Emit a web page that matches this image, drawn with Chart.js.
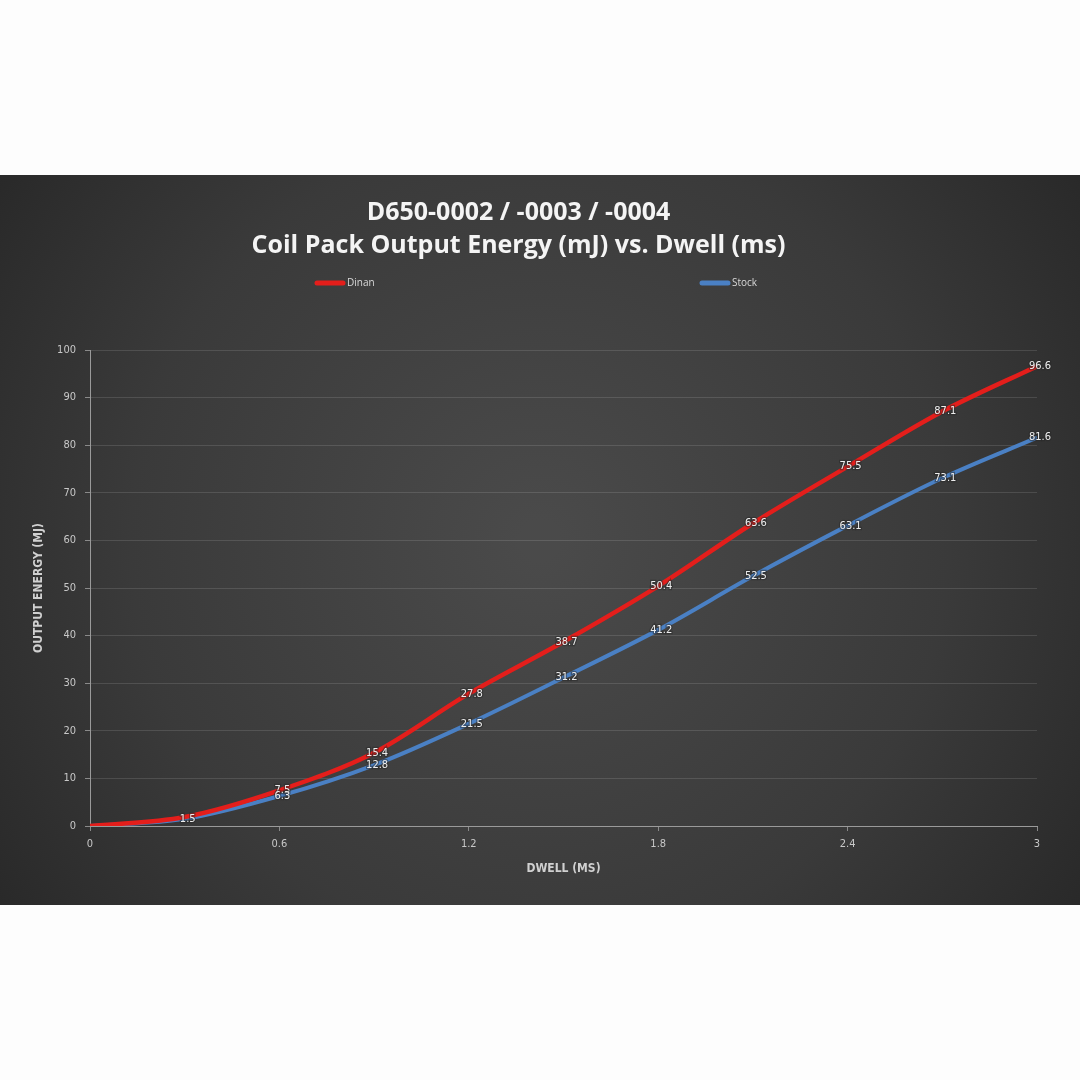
<!DOCTYPE html>
<html>
<head>
<meta charset="utf-8">
<script src="https://cdn.jsdelivr.net/npm/chart.js@4.4.1/dist/chart.umd.min.js"></script>
<style>
  html, body { margin: 0; padding: 0; background: #fdfdfd; }
  #wrap { position: absolute; left: 0; top: 175px; width: 1080px; height: 730px; }
</style>
</head>
<body>
<div id="wrap"><canvas id="coil-chart"></canvas></div>
<script>
// dwell (ms) vs output energy (mJ)
const dwell = [0, 0.3, 0.6, 0.9, 1.2, 1.5, 1.8, 2.1, 2.4, 2.7, 3.0];
const dinan = [0, 1.9, 7.5, 15.4, 27.8, 38.7, 50.4, 63.6, 75.5, 87.1, 96.6];
const stock = [0, 1.5, 6.3, 12.8, 21.5, 31.2, 41.2, 52.5, 63.1, 73.1, 81.6];

const titleLines = ["D650-0002 / -0003 / -0004", "Coil Pack Output Energy (mJ) vs. Dwell (ms)"];

const RED = "#e41e1b";
const BLUE = "#4a80c4";

const toPoints = (ys) => dwell.map((x, i) => ({ x: x, y: ys[i] }));

// dark panel with a soft light spot in the middle
const panelBg = {
  id: "panelBg",
  beforeDraw(chart) {
    const { ctx, width, height } = chart;
    const g = ctx.createRadialGradient(width * 0.5, height * 0.5, 20, width * 0.5, height * 0.5, width * 0.62);
    g.addColorStop(0, "#4a4a4a");
    g.addColorStop(0.6, "#3a3a3a");
    g.addColorStop(1, "#282828");
    ctx.save();
    ctx.fillStyle = g;
    ctx.fillRect(0, 0, width, height);
    ctx.restore();
  },
};

// legend items sit far apart, so draw them by hand
const spreadLegend = {
  id: "spreadLegend",
  afterDraw(chart) {
    const ctx = chart.ctx;
    const xs = [315, 700];
    ctx.save();
    ctx.font = "10px 'Open Sans'";
    ctx.textBaseline = "middle";
    chart.data.datasets.forEach((ds, i) => {
      ctx.strokeStyle = ds.borderColor;
      ctx.lineWidth = 5;
      ctx.lineCap = "round";
      ctx.beginPath();
      ctx.moveTo(xs[i] + 2, 108);
      ctx.lineTo(xs[i] + 28, 108);
      ctx.stroke();
      ctx.fillStyle = "#d8d8d8";
      ctx.fillText(ds.label, xs[i] + 32, 108);
    });
    ctx.restore();
  },
};

// value labels on each point
const pointLabels = {
  id: "pointLabels",
  afterDatasetsDraw(chart) {
    const ctx = chart.ctx;
    ctx.save();
    ctx.font = "11px 'DejaVu Sans Condensed', 'DejaVu Sans'";
    ctx.textAlign = "center";
    ctx.textBaseline = "middle";
    chart.data.datasets.forEach((ds, di) => {
      const meta = chart.getDatasetMeta(di);
      meta.data.forEach((pt, i) => {
        if (i === 0) return;
        if (di === 0 && i === 1) return; // overlaps the stock label
        const txt = ds.data[i].y.toFixed(1);
        ctx.lineWidth = 2.5;
        ctx.strokeStyle = "rgba(40,40,40,0.5)";
        ctx.strokeText(txt, pt.x + 3, pt.y);
        ctx.fillStyle = "#eeeeee";
        ctx.fillText(txt, pt.x + 3, pt.y);
      });
    });
    ctx.restore();
  },
};

const chart = new Chart("coil-chart", {
  type: "line",
  data: {
    datasets: [
      {
        label: "Dinan",
        data: toPoints(dinan),
        borderColor: RED,
        borderWidth: 4.5,
        pointRadius: 0,
        cubicInterpolationMode: "monotone",
        fill: false,
      },
      {
        label: "Stock",
        data: toPoints(stock),
        borderColor: BLUE,
        borderWidth: 4,
        pointRadius: 0,
        cubicInterpolationMode: "monotone",
        fill: false,
      },
    ],
  },
  options: {
    responsive: true,
    maintainAspectRatio: false,
    animation: false,
    layout: { padding: { left: 0, right: 43, top: 0, bottom: 0 } },
    plugins: {
      legend: { display: false },
      tooltip: { enabled: false },
      title: {
        display: true,
        text: titleLines,
        color: "#f4f4f4",
        font: { family: "'Open Sans'", size: 25, weight: "bold", lineHeight: 1.3 },
        padding: { top: 22, bottom: 88 },
      },
    },
    scales: {
      x: {
        type: "linear",
        min: 0,
        max: 3,
        afterFit(scale) { scale.height = 79; },
        ticks: {
          stepSize: 0.6,
          color: "#c8c8c8",
          font: { family: "'DejaVu Sans Condensed', 'DejaVu Sans'", size: 11 },
          padding: 7,
          callback: (v) => String(+v.toFixed(1)),
        },
        grid: { drawOnChartArea: false, drawTicks: true, tickLength: 5, color: "#8a8a8a" },
        border: { color: "#9a9a9a", width: 1 },
        title: {
          display: true,
          text: "DWELL (MS)",
          color: "#d0d0d0",
          font: { family: "'DejaVu Sans Condensed', 'DejaVu Sans'", size: 12, weight: "bold" },
          padding: { top: 0, bottom: 29 },
        },
      },
      y: {
        min: 0,
        max: 100,
        afterFit(scale) { scale.width = 90; },
        ticks: {
          stepSize: 10,
          color: "#c8c8c8",
          font: { family: "'DejaVu Sans Condensed', 'DejaVu Sans'", size: 11 },
          padding: 9,
        },
        grid: { color: "rgba(255,255,255,0.12)", tickColor: "#8a8a8a", tickLength: 5 },
        border: { color: "#9a9a9a", width: 1 },
        title: {
          display: true,
          text: "OUTPUT ENERGY (MJ)",
          color: "#d0d0d0",
          font: { family: "'DejaVu Sans Condensed', 'DejaVu Sans'", size: 12, weight: "bold" },
          padding: { top: 32, bottom: 0 },
        },
      },
    },
  },
  plugins: [panelBg, spreadLegend, pointLabels],
});
</script>
</body>
</html>
